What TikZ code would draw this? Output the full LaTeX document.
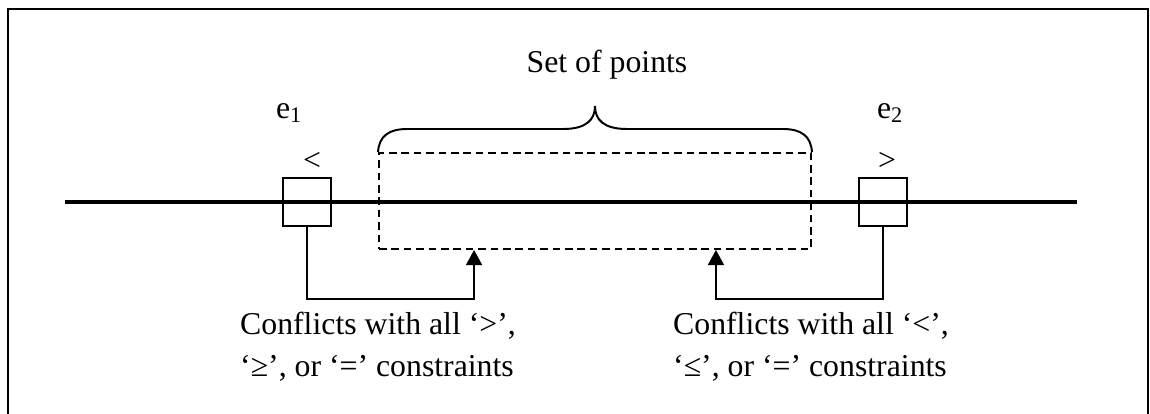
\documentclass[tikz,border=0pt]{standalone}
\usepackage{fontspec}
\setmainfont{Liberation Serif}
\usetikzlibrary{arrows.meta, positioning}
\tikzset{
  txt/.style={inner sep=0pt, font=\fontsize{22.6}{30}\selectfont},
  note/.style={txt, align=left},
  markbox/.style={rectangle, draw, line width=1.4pt, minimum width=1.2cm,
    minimum height=1.2cm, inner sep=0pt},
  pointset/.style={rectangle, draw, line width=1.3pt, minimum width=10.8cm,
    minimum height=2.4cm, inner sep=0pt, dash pattern=on 0.19cm off 0.12cm},
  axis/.style={line width=3.2pt},
  frame/.style={line width=1.5pt},
  conn/.style={line width=1.4pt, -{Triangle[width=0.4cm,length=0.38cm]}}
}
\begin{document}
\begin{tikzpicture}[x=0.025cm, y=-0.025cm]
\useasboundingbox (0,0) rectangle (1150,414);
\draw[frame] (8,430) -- (8,9) -- (1148,9) -- (1148,430);

% number line
\draw[axis] (65,202) -- (1077,202);

\node (e1box) [markbox]  at (307,202) {};
\node (e2box) [markbox]  at (883,202) {};
\node (pts)   [pointset] at (595,201) {};

\node (lt)   [txt] at (312,161) {<};
\node (gt)   [txt] at (887,161) {>};
\node (e1)   [txt] at (289,113) {e\textsubscript{1}};
\node (e2)   [txt] at (890,113) {e\textsubscript{2}};
\node (set)  [txt] at (607,65)  {Set of points};

% brace over the set
\draw[line width=1.4pt] (pts.north west) .. controls (379,136) and (389,129) .. (407,129)
  -- (563,129) .. controls (586,129) and (595,120) .. (595,106)
  .. controls (595,120) and (604,129) .. (627,129)
  -- (783,129) .. controls (801,129) and (811,136) .. (pts.north east);

\node (lnote) [note] at (378,347) {Conflicts with all ‘>’,\\‘≥’, or ‘=’ constraints};
\node (rnote) [note] at (811,347) {Conflicts with all ‘<’,\\‘≤’, or ‘=’ constraints};

\draw[conn] (e1box.south) |- ([shift={(2.4cm,-1.225cm)}]pts.south west)
  -- ([xshift=2.4cm]pts.south west);
\draw[conn] (e2box.south) |- ([shift={(-2.4cm,-1.225cm)}]pts.south east)
  -- ([xshift=-2.4cm]pts.south east);
\end{tikzpicture}
\end{document}
